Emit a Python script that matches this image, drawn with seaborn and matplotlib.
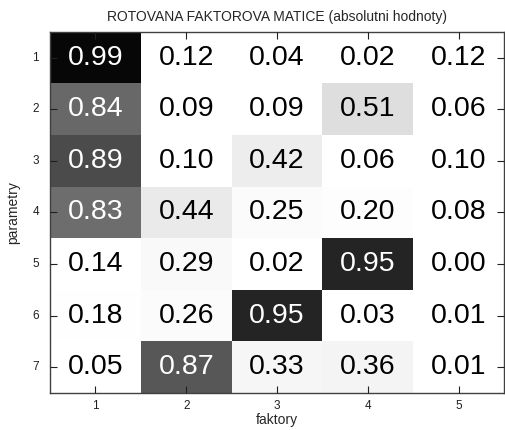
import numpy as np
import pandas as pd
import seaborn as sns
import matplotlib
matplotlib.use("Agg")
import matplotlib.pyplot as plt
from matplotlib.colors import LinearSegmentedColormap, PowerNorm

# Rotated factor loadings (absolute values): rows = parameters, columns = factors
parametry = [1, 2, 3, 4, 5, 6, 7]
faktory = [1, 2, 3, 4, 5]
faktor1 = [0.99, 0.84, 0.89, 0.83, 0.14, 0.18, 0.05]
faktor2 = [0.12, 0.09, 0.10, 0.44, 0.29, 0.26, 0.87]
faktor3 = [0.04, 0.09, 0.42, 0.25, 0.02, 0.95, 0.33]
faktor4 = [0.02, 0.51, 0.06, 0.20, 0.95, 0.03, 0.36]
faktor5 = [0.12, 0.06, 0.10, 0.08, 0.00, 0.01, 0.01]

df = pd.DataFrame(
    np.column_stack([faktor1, faktor2, faktor3, faktor4, faktor5]),
    index=parametry, columns=faktory,
)

sns.set_style("white")
plt.rcParams["font.family"] = ["Liberation Sans", "DejaVu Sans"]

fig = plt.figure(figsize=(5.05, 4.30), dpi=100)
ax = fig.add_axes([0.099, 0.086, 0.899, 0.840])

cmap = LinearSegmentedColormap.from_list("white_black", ["white", "black"])
sns.heatmap(
    df, ax=ax, cmap=cmap, norm=PowerNorm(gamma=3, vmin=0, vmax=1),
    annot=True, fmt=".2f", cbar=False,
    annot_kws={"fontsize": 20.5},
)
for t in ax.texts:
    if t.get_color() != "w":
        t.set_color("black")

# draw the frame and tick marks over the cells
ax.set_axisbelow(False)
for side in ["left", "right", "top", "bottom"]:
    ax.spines[side].set_visible(True)
    ax.spines[side].set_color("#404040")
    ax.spines[side].set_linewidth(1.0)

ax.tick_params(axis="both", direction="in", length=5, width=0.8,
               color="#202020", labelsize=8.5, labelcolor="#202020",
               bottom=True, left=True, top=True, right=True,
               labeltop=False, labelright=False)
ax.tick_params(axis="y", pad=8)
ax.tick_params(axis="x", pad=5)
ax.set_yticklabels(parametry, rotation=0)
ax.set_xticklabels(faktory, rotation=0)

ax.set_title("ROTOVANA FAKTOROVA MATICE (absolutni hodnoty)", fontsize=10, pad=8)
ax.set_xlabel("faktory", fontsize=10, labelpad=1)
ax.set_ylabel("parametry", fontsize=10, labelpad=9)

fig.savefig("out.png", dpi=100)
